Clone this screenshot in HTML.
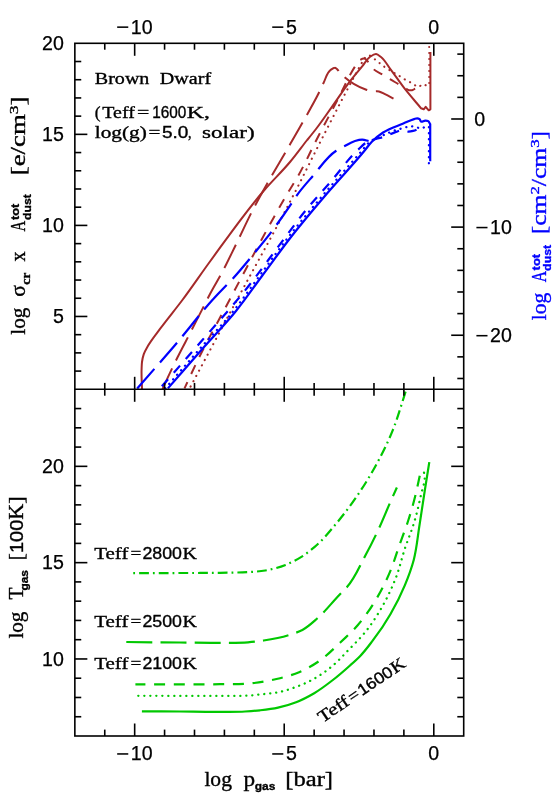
<!DOCTYPE html><html><head><meta charset="utf-8"><style>html,body{margin:0;padding:0;background:#fff}svg{display:block;will-change:transform;opacity:0.999}text{font-family:"Liberation Serif",serif}.sa{font-family:"Liberation Sans",sans-serif}</style></head><body>
<svg width="554" height="797" viewBox="0 0 554 797">
<rect width="554" height="797" fill="#fff"/>
<clipPath id="c1"><rect x="74.8" y="43.3" width="388.9" height="346.0"/></clipPath>
<clipPath id="c2"><rect x="74.8" y="389.3" width="388.9" height="346.7"/></clipPath>
<g clip-path="url(#c1)">
<path d="M142.0,389.3C141.9,382.5 141.3,375.8 141.6,369.0C141.7,366.7 141.7,364.3 142.0,362.0C142.3,359.4 142.9,356.8 143.7,354.4C144.7,351.4 146.4,348.6 148.0,345.8C151.4,339.8 155.9,334.5 160.0,328.9C167.2,319.1 175.1,309.8 182.4,300.0C191.9,287.4 200.7,274.2 210.0,261.5C227.7,237.3 244.8,212.6 264.4,190.0C272.7,180.4 281.9,171.7 290.0,162.0C296.0,154.9 301.4,147.3 307.2,140.0C310.3,136.2 313.4,132.4 316.4,128.5C321.9,121.4 326.9,113.9 332.1,106.6C338.3,98.0 344.0,89.0 350.5,80.6C354.4,75.6 358.6,70.7 362.6,65.8C365.0,62.9 366.8,59.1 369.8,57.0C371.7,55.7 374.1,53.8 376.1,54.0C377.8,54.2 379.5,55.9 381.0,57.0C384.8,59.9 387.0,64.7 390.0,68.6C395.2,75.4 399.8,82.5 405.1,89.2C410.2,95.7 415.8,101.9 421.1,108.3L423.7,109.3L425.7,106.8L428.7,110.3L430.4,109.3L430.4,52" fill="none" stroke="#a52a2a" stroke-width="2.0" stroke-linejoin="round" stroke-linecap="butt"/>
<path d="M162.5,389.3C163.1,387.9 163.7,386.6 164.3,385.2C168.4,376.0 172.8,366.8 177.3,357.8C181.0,350.3 185.0,342.9 188.9,335.4C194.2,325.0 199.5,314.7 204.8,304.3C206.5,300.9 208.2,297.4 210.0,294.0C213.6,287.1 217.7,280.5 221.4,273.7C226.8,263.6 231.7,253.1 236.8,242.8C242.0,232.3 246.8,221.5 252.2,211.1C255.9,204.0 259.7,197.0 263.6,190.0C264.7,188.0 265.9,185.9 267.0,183.9C273.1,173.0 279.7,162.3 286.0,151.4C291.7,141.5 297.5,131.6 303.1,121.6C308.7,111.6 314.6,101.7 319.6,91.4C320.9,88.7 322.1,86.0 323.4,83.3C325.7,78.7 326.8,72.5 331.0,69.7C332.1,68.9 333.6,67.8 334.8,67.8C336.9,67.7 338.4,71.2 340.2,73.0C341.1,73.9 342.0,74.8 342.9,75.7C349.2,81.6 356.9,86.4 365.0,89.2C367.6,90.1 370.3,91.0 373.0,91.3C375.0,91.6 377.1,91.1 379.0,91.5C381.1,92.0 383.0,93.2 385.0,94.2C387.9,95.6 390.7,97.2 393.5,98.7" fill="none" stroke="#a52a2a" stroke-width="2.0" stroke-linejoin="round" stroke-linecap="butt" stroke-dasharray="26 8.8" stroke-dashoffset="3.0"/>
<path d="M184.5,388.4C188.1,380.6 191.7,372.8 195.4,365.0C206.0,343.0 218.0,321.6 229.5,300.0C249.1,263.1 268.2,225.9 289.6,190.0C292.5,185.2 295.5,180.5 298.3,175.6C304.9,164.1 310.3,151.8 316.4,140.0C320.3,132.4 324.3,124.9 328.3,117.4C332.6,109.1 337.1,100.9 341.3,92.5C344.0,87.1 346.5,81.5 349.4,76.2C351.0,73.3 352.5,70.4 354.3,67.6C355.9,65.1 357.0,61.8 359.4,60.3C360.8,59.4 362.9,58.3 364.4,58.5C366.2,58.8 367.6,61.4 369.0,63.0C370.8,65.0 371.9,67.6 373.8,69.4C376.3,71.8 379.9,73.0 382.9,74.8C385.3,76.2 387.6,77.8 390.0,79.2C392.8,80.9 395.7,82.5 398.6,84.2C400.9,85.5 403.3,86.9 405.6,88.2C406.8,88.9 407.8,89.9 409.1,90.2C410.0,90.4 411.1,90.4 412.1,90.2C413.2,90.0 414.1,89.2 415.1,88.7C416.4,88.1 417.8,87.7 419.1,87.2" fill="none" stroke="#a52a2a" stroke-width="2.0" stroke-linejoin="round" stroke-linecap="butt" stroke-dasharray="9.8 9" stroke-dashoffset="2.9"/>
<path d="M189.6,388.4C203.8,361.8 218.0,335.2 232.2,308.7C253.4,269.1 275.6,230.0 296.1,190.0C305.0,172.7 313.4,155.3 322.3,138.0C335.0,113.1 347.6,88.2 361.3,63.8C362.2,62.2 362.8,60.4 364.0,59.0C365.3,57.5 367.2,55.4 368.9,55.4C370.5,55.4 372.2,57.4 373.8,58.5C375.4,59.6 376.9,60.9 378.4,62.1C380.0,63.4 381.6,64.8 383.3,66.0C384.8,67.1 386.4,68.1 388.0,69.1C389.7,70.2 391.3,71.3 393.0,72.3C394.7,73.3 396.4,74.1 398.1,75.1C399.8,76.1 401.4,77.4 403.1,78.4C404.9,79.5 406.8,80.4 408.6,81.4C410.3,82.3 411.9,83.3 413.6,84.2C415.3,85.1 417.0,87.2 418.6,87.0C420.0,86.9 421.2,84.2 422.7,84.0C424.1,83.8 425.7,85.8 427.2,85.7C427.9,85.7 428.5,85.4 429.2,85.2L429.2,44" fill="none" stroke="#a52a2a" stroke-width="2.1" stroke-linejoin="round" stroke-linecap="round" stroke-dasharray="0.1 5.9" stroke-dashoffset="3.9"/>
<path d="M167.9,388.4C179.9,374.6 191.9,360.7 204.0,347.0C214.6,335.0 225.9,323.5 236.0,311.0C245.1,299.7 253.3,287.7 262.0,276.0C271.7,263.0 281.0,249.8 291.0,237.0C302.6,222.2 314.8,207.8 327.0,193.5C339.5,178.8 352.9,165.0 365.1,150.0C367.3,147.3 369.2,144.4 371.6,141.9C375.0,138.3 379.0,135.2 383.1,132.5C389.2,128.5 396.5,126.4 403.3,123.5C406.9,122.0 410.4,120.2 414.1,119.1C415.1,118.8 416.1,118.3 417.1,118.3C417.9,118.3 418.9,118.6 419.6,119.1C420.3,119.7 420.4,121.2 421.1,121.6C422.1,122.2 423.8,120.6 425.2,120.6C426.2,120.6 427.4,120.6 428.2,121.1C429.1,121.7 429.5,123.1 430.2,124.1L430.2,161.3" fill="none" stroke="#0000ff" stroke-width="2.2" stroke-linejoin="round" stroke-linecap="butt"/>
<clipPath id="ca"><rect x="0" y="297" width="554" height="100"/></clipPath><clipPath id="cb"><rect x="0" y="0" width="554" height="297"/></clipPath>
<g clip-path="url(#ca)">
<path d="M137.2,388.4C150.3,373.4 163.7,358.5 176.6,343.3C188.7,329.0 199.8,313.9 212.4,300.0C219.3,292.4 226.8,285.3 233.6,277.7C241.2,269.3 248.3,260.5 255.5,251.7C261.0,245.0 266.5,238.3 271.7,231.4C278.5,222.4 284.9,213.2 291.2,203.8C292.8,201.4 294.3,198.9 296.0,196.5C301.1,189.1 307.2,182.5 313.1,175.7C320.5,167.1 326.7,156.7 336.2,150.7C338.5,149.3 341.0,148.1 343.4,146.8C347.2,144.8 350.9,142.2 355.0,141.0C357.3,140.3 359.8,139.6 362.2,139.6C364.4,139.6 366.5,140.5 368.7,141.0" fill="none" stroke="#0000ff" stroke-width="2.2" stroke-linejoin="round" stroke-linecap="butt" stroke-dasharray="26 8.5" stroke-dashoffset="0"/>
</g>
<g clip-path="url(#cb)">
<path d="M137.2,388.4C150.3,373.4 163.7,358.5 176.6,343.3C188.7,329.0 199.8,313.9 212.4,300.0C219.3,292.4 226.8,285.3 233.6,277.7C241.2,269.3 248.3,260.5 255.5,251.7C261.0,245.0 266.5,238.3 271.7,231.4C278.5,222.4 284.9,213.2 291.2,203.8C292.8,201.4 294.3,198.9 296.0,196.5C301.1,189.1 307.2,182.5 313.1,175.7C320.5,167.1 326.7,156.7 336.2,150.7C338.5,149.3 341.0,148.1 343.4,146.8C347.2,144.8 350.9,142.2 355.0,141.0C357.3,140.3 359.8,139.6 362.2,139.6C364.4,139.6 366.5,140.5 368.7,141.0" fill="none" stroke="#0000ff" stroke-width="2.2" stroke-linejoin="round" stroke-linecap="butt" stroke-dasharray="26 8.8" stroke-dashoffset="28.5"/>
</g>
<path d="M160.0,388.4C174.0,372.4 188.1,356.5 202.0,340.5C216.4,324.0 231.1,307.7 244.9,290.7C258.6,273.7 271.2,255.8 284.4,238.4C290.9,229.8 297.2,220.9 304.0,212.5C312.9,201.4 322.6,191.1 331.9,180.3C340.6,170.2 348.1,158.9 357.9,150.0C361.1,147.0 364.1,143.4 368.0,141.5C370.4,140.3 373.2,139.8 375.9,139.0C378.9,138.1 382.0,137.6 385.0,136.6C388.8,135.3 392.2,133.1 396.0,131.9C398.3,131.2 400.7,129.9 403.1,130.1C404.8,130.2 406.4,131.5 408.1,131.6C409.7,131.7 411.5,131.3 413.1,130.9C415.5,130.3 417.7,129.0 420.0,128.0" fill="none" stroke="#0000ff" stroke-width="2.2" stroke-linejoin="round" stroke-linecap="butt" stroke-dasharray="9.4 8.7" stroke-dashoffset="15.3"/>
<path d="M165.3,388.4C177.3,374.6 189.3,360.7 201.4,347.0C212.0,335.0 223.3,323.5 233.4,311.0C242.5,299.7 250.7,287.7 259.4,276.0C269.1,263.0 278.4,249.8 288.4,237.0C300.0,222.2 312.2,207.8 324.4,193.5C336.9,178.8 349.9,164.6 362.5,150.0C364.7,147.5 366.6,144.6 369.0,142.5C373.4,138.7 379.6,136.9 385.0,134.5C388.6,132.9 392.2,131.2 396.0,130.0C398.6,129.2 401.3,128.6 404.0,127.9C405.9,127.4 407.7,126.5 409.6,126.3C411.7,126.1 413.9,126.6 416.0,127.0C417.7,127.4 419.3,128.5 421.0,128.5C423.0,128.5 424.9,126.2 427.0,126.3C427.6,126.3 428.3,126.5 428.9,126.6L428.9,167.2" fill="none" stroke="#0000ff" stroke-width="2.3" stroke-linejoin="round" stroke-linecap="round" stroke-dasharray="0.1 5.9" stroke-dashoffset="0"/>
</g>
<g clip-path="url(#c2)">
<path d="M141.9,711.3C154.6,711.4 167.3,711.4 180.0,711.5C193.3,711.6 206.7,711.9 220.0,711.8C228.3,711.8 236.7,712.0 245.0,711.5C250.0,711.2 255.0,710.9 260.0,710.3C266.0,709.6 272.1,708.9 278.0,707.6C284.1,706.2 290.3,704.5 296.1,702.2C302.4,699.8 308.4,696.6 314.2,693.2C320.5,689.5 326.4,685.0 332.2,680.5C338.5,675.7 344.4,670.5 350.3,665.2C353.6,662.3 356.9,659.4 360.0,656.2C364.5,651.6 368.4,646.3 372.3,641.2C378.9,632.6 385.0,623.6 390.4,614.2C395.8,604.9 400.7,595.2 404.8,585.3C408.3,577.0 411.5,568.4 413.8,559.7C416.6,549.1 417.5,538.0 419.2,527.2C421.1,515.2 422.8,503.1 424.7,491.1C426.2,481.5 427.8,471.8 429.3,462.2" fill="none" stroke="#00c800" stroke-width="2.2" stroke-linejoin="round" stroke-linecap="butt"/>
<path d="M138.3,695.8C152.2,695.8 166.1,695.9 180.0,695.9C193.3,695.9 206.7,696.0 220.0,695.9C229.3,695.8 238.7,696.2 248.0,695.6C253.2,695.3 258.4,694.7 263.6,694.1C268.4,693.6 273.3,693.2 278.0,692.3C284.2,691.1 290.2,689.1 296.1,686.9C302.3,684.6 308.5,681.9 314.2,678.7C320.6,675.1 326.6,670.7 332.2,666.1C338.7,660.7 344.3,654.2 350.3,648.1C353.6,644.8 356.9,641.5 360.0,638.1C361.7,636.2 363.5,634.2 365.1,632.2C372.0,623.8 377.8,614.5 383.1,605.1C387.9,596.4 392.2,587.3 395.8,578.0C399.5,568.5 401.6,558.5 404.8,548.8C407.6,540.3 411.2,532.1 413.8,523.6C416.7,514.1 418.9,504.4 421.0,494.7C422.3,488.7 425.1,482.6 424.7,476.6C424.5,473.6 423.4,470.6 422.8,467.6" fill="none" stroke="#00c800" stroke-width="2.3" stroke-linejoin="round" stroke-linecap="round" stroke-dasharray="0.1 5.9" stroke-dashoffset="0"/>
<path d="M135.4,684.3C150.3,684.3 165.1,684.3 180.0,684.3C193.3,684.3 206.7,684.4 220.0,684.2C229.8,684.1 239.7,684.4 249.4,683.5C258.5,682.6 267.6,681.1 276.5,679.0C284.1,677.2 291.9,675.3 299.1,672.2C306.2,669.2 313.1,665.3 319.4,660.9C326.9,655.7 333.3,649.0 340.0,642.8C346.1,637.0 352.4,631.3 357.9,625.0C364.6,617.2 370.6,608.5 375.9,599.7C381.5,590.5 386.3,580.7 390.4,570.8C393.9,562.5 396.4,553.7 399.4,545.2C402.4,536.8 405.7,528.5 408.4,520.0C411.1,511.7 413.5,503.2 415.6,494.7C417.2,488.1 418.5,481.4 420.0,474.8" fill="none" stroke="#00c800" stroke-width="2.2" stroke-linejoin="round" stroke-linecap="butt" stroke-dasharray="11 8.7" stroke-dashoffset="1"/>
<path d="M126.3,642.0C144.2,642.2 162.1,642.4 180.0,642.5C193.3,642.6 206.7,642.9 220.0,642.8C229.3,642.7 238.7,643.0 248.0,642.3C253.2,641.9 258.4,641.3 263.6,640.5C272.1,639.2 280.7,637.7 288.9,635.1C293.5,633.6 298.2,632.2 302.4,630.0C307.8,627.1 312.5,622.6 317.2,618.5C325.5,611.2 332.2,602.2 340.0,594.2C342.3,591.8 344.8,589.6 347.0,587.1C354.9,578.2 359.4,566.6 365.1,556.1C370.2,546.6 375.0,537.0 379.5,527.2C383.3,518.9 386.7,510.3 390.4,501.9C392.5,497.1 394.7,492.3 396.9,487.5" fill="none" stroke="#00c800" stroke-width="2.2" stroke-linejoin="round" stroke-linecap="butt" stroke-dasharray="26 8.2" stroke-dashoffset="0"/>
<path d="M131.8,573.1C147.9,573.1 163.9,573.1 180.0,573.0C193.3,573.0 206.7,573.0 220.0,572.8C227.5,572.7 235.1,572.7 242.6,572.3C250.1,571.9 257.8,571.8 265.2,570.5C272.1,569.3 279.0,567.5 285.5,564.9C291.0,562.7 296.4,560.0 301.4,556.9C306.1,554.0 310.5,550.5 314.7,546.9C322.7,540.1 329.4,531.7 336.2,523.6C343.9,514.4 351.2,504.7 357.9,494.7C365.8,483.1 373.0,471.0 379.5,458.6C384.4,449.2 389.1,439.6 393.0,429.7C396.3,421.4 398.9,412.9 401.6,404.4C403.1,399.6 404.6,394.8 406.1,390.0" fill="none" stroke="#00c800" stroke-width="2.2" stroke-linejoin="round" stroke-linecap="butt" stroke-dasharray="9.8 4 1.8 4.06" stroke-dashoffset="12.36"/>
</g>
<rect x="74.85" y="43.3" width="388.85" height="692.70" fill="none" stroke="#000" stroke-width="1.6"/>
<line x1="74.85" y1="389.30" x2="463.70" y2="389.30" stroke="#000" stroke-width="1.6"/>
<line x1="104.76" y1="43.30" x2="104.76" y2="49.70" stroke="#000" stroke-width="1.6"/>
<line x1="104.76" y1="382.90" x2="104.76" y2="395.70" stroke="#000" stroke-width="1.6"/>
<line x1="104.76" y1="729.60" x2="104.76" y2="736.00" stroke="#000" stroke-width="1.6"/>
<line x1="134.67" y1="43.30" x2="134.67" y2="55.80" stroke="#000" stroke-width="1.6"/>
<line x1="134.67" y1="376.80" x2="134.67" y2="401.80" stroke="#000" stroke-width="1.6"/>
<line x1="134.67" y1="723.50" x2="134.67" y2="736.00" stroke="#000" stroke-width="1.6"/>
<line x1="164.58" y1="43.30" x2="164.58" y2="49.70" stroke="#000" stroke-width="1.6"/>
<line x1="164.58" y1="382.90" x2="164.58" y2="395.70" stroke="#000" stroke-width="1.6"/>
<line x1="164.58" y1="729.60" x2="164.58" y2="736.00" stroke="#000" stroke-width="1.6"/>
<line x1="194.50" y1="43.30" x2="194.50" y2="49.70" stroke="#000" stroke-width="1.6"/>
<line x1="194.50" y1="382.90" x2="194.50" y2="395.70" stroke="#000" stroke-width="1.6"/>
<line x1="194.50" y1="729.60" x2="194.50" y2="736.00" stroke="#000" stroke-width="1.6"/>
<line x1="224.41" y1="43.30" x2="224.41" y2="49.70" stroke="#000" stroke-width="1.6"/>
<line x1="224.41" y1="382.90" x2="224.41" y2="395.70" stroke="#000" stroke-width="1.6"/>
<line x1="224.41" y1="729.60" x2="224.41" y2="736.00" stroke="#000" stroke-width="1.6"/>
<line x1="254.32" y1="43.30" x2="254.32" y2="49.70" stroke="#000" stroke-width="1.6"/>
<line x1="254.32" y1="382.90" x2="254.32" y2="395.70" stroke="#000" stroke-width="1.6"/>
<line x1="254.32" y1="729.60" x2="254.32" y2="736.00" stroke="#000" stroke-width="1.6"/>
<line x1="284.23" y1="43.30" x2="284.23" y2="55.80" stroke="#000" stroke-width="1.6"/>
<line x1="284.23" y1="376.80" x2="284.23" y2="401.80" stroke="#000" stroke-width="1.6"/>
<line x1="284.23" y1="723.50" x2="284.23" y2="736.00" stroke="#000" stroke-width="1.6"/>
<line x1="314.14" y1="43.30" x2="314.14" y2="49.70" stroke="#000" stroke-width="1.6"/>
<line x1="314.14" y1="382.90" x2="314.14" y2="395.70" stroke="#000" stroke-width="1.6"/>
<line x1="314.14" y1="729.60" x2="314.14" y2="736.00" stroke="#000" stroke-width="1.6"/>
<line x1="344.05" y1="43.30" x2="344.05" y2="49.70" stroke="#000" stroke-width="1.6"/>
<line x1="344.05" y1="382.90" x2="344.05" y2="395.70" stroke="#000" stroke-width="1.6"/>
<line x1="344.05" y1="729.60" x2="344.05" y2="736.00" stroke="#000" stroke-width="1.6"/>
<line x1="373.97" y1="43.30" x2="373.97" y2="49.70" stroke="#000" stroke-width="1.6"/>
<line x1="373.97" y1="382.90" x2="373.97" y2="395.70" stroke="#000" stroke-width="1.6"/>
<line x1="373.97" y1="729.60" x2="373.97" y2="736.00" stroke="#000" stroke-width="1.6"/>
<line x1="403.88" y1="43.30" x2="403.88" y2="49.70" stroke="#000" stroke-width="1.6"/>
<line x1="403.88" y1="382.90" x2="403.88" y2="395.70" stroke="#000" stroke-width="1.6"/>
<line x1="403.88" y1="729.60" x2="403.88" y2="736.00" stroke="#000" stroke-width="1.6"/>
<line x1="433.79" y1="43.30" x2="433.79" y2="55.80" stroke="#000" stroke-width="1.6"/>
<line x1="433.79" y1="376.80" x2="433.79" y2="401.80" stroke="#000" stroke-width="1.6"/>
<line x1="433.79" y1="723.50" x2="433.79" y2="736.00" stroke="#000" stroke-width="1.6"/>
<line x1="74.85" y1="371.09" x2="81.25" y2="371.09" stroke="#000" stroke-width="1.6"/>
<line x1="74.85" y1="352.88" x2="81.25" y2="352.88" stroke="#000" stroke-width="1.6"/>
<line x1="74.85" y1="334.67" x2="81.25" y2="334.67" stroke="#000" stroke-width="1.6"/>
<line x1="74.85" y1="316.46" x2="87.35" y2="316.46" stroke="#000" stroke-width="1.6"/>
<line x1="74.85" y1="298.25" x2="81.25" y2="298.25" stroke="#000" stroke-width="1.6"/>
<line x1="74.85" y1="280.04" x2="81.25" y2="280.04" stroke="#000" stroke-width="1.6"/>
<line x1="74.85" y1="261.83" x2="81.25" y2="261.83" stroke="#000" stroke-width="1.6"/>
<line x1="74.85" y1="243.62" x2="81.25" y2="243.62" stroke="#000" stroke-width="1.6"/>
<line x1="74.85" y1="225.41" x2="87.35" y2="225.41" stroke="#000" stroke-width="1.6"/>
<line x1="74.85" y1="207.19" x2="81.25" y2="207.19" stroke="#000" stroke-width="1.6"/>
<line x1="74.85" y1="188.98" x2="81.25" y2="188.98" stroke="#000" stroke-width="1.6"/>
<line x1="74.85" y1="170.77" x2="81.25" y2="170.77" stroke="#000" stroke-width="1.6"/>
<line x1="74.85" y1="152.56" x2="81.25" y2="152.56" stroke="#000" stroke-width="1.6"/>
<line x1="74.85" y1="134.35" x2="87.35" y2="134.35" stroke="#000" stroke-width="1.6"/>
<line x1="74.85" y1="116.14" x2="81.25" y2="116.14" stroke="#000" stroke-width="1.6"/>
<line x1="74.85" y1="97.93" x2="81.25" y2="97.93" stroke="#000" stroke-width="1.6"/>
<line x1="74.85" y1="79.72" x2="81.25" y2="79.72" stroke="#000" stroke-width="1.6"/>
<line x1="74.85" y1="61.51" x2="81.25" y2="61.51" stroke="#000" stroke-width="1.6"/>
<line x1="457.30" y1="378.49" x2="463.70" y2="378.49" stroke="#000" stroke-width="1.6"/>
<line x1="457.30" y1="356.86" x2="463.70" y2="356.86" stroke="#000" stroke-width="1.6"/>
<line x1="451.20" y1="335.24" x2="463.70" y2="335.24" stroke="#000" stroke-width="1.6"/>
<line x1="457.30" y1="313.61" x2="463.70" y2="313.61" stroke="#000" stroke-width="1.6"/>
<line x1="457.30" y1="291.99" x2="463.70" y2="291.99" stroke="#000" stroke-width="1.6"/>
<line x1="457.30" y1="270.36" x2="463.70" y2="270.36" stroke="#000" stroke-width="1.6"/>
<line x1="457.30" y1="248.74" x2="463.70" y2="248.74" stroke="#000" stroke-width="1.6"/>
<line x1="451.20" y1="227.11" x2="463.70" y2="227.11" stroke="#000" stroke-width="1.6"/>
<line x1="457.30" y1="205.49" x2="463.70" y2="205.49" stroke="#000" stroke-width="1.6"/>
<line x1="457.30" y1="183.86" x2="463.70" y2="183.86" stroke="#000" stroke-width="1.6"/>
<line x1="457.30" y1="162.24" x2="463.70" y2="162.24" stroke="#000" stroke-width="1.6"/>
<line x1="457.30" y1="140.61" x2="463.70" y2="140.61" stroke="#000" stroke-width="1.6"/>
<line x1="451.20" y1="118.99" x2="463.70" y2="118.99" stroke="#000" stroke-width="1.6"/>
<line x1="457.30" y1="97.36" x2="463.70" y2="97.36" stroke="#000" stroke-width="1.6"/>
<line x1="457.30" y1="75.74" x2="463.70" y2="75.74" stroke="#000" stroke-width="1.6"/>
<line x1="457.30" y1="54.11" x2="463.70" y2="54.11" stroke="#000" stroke-width="1.6"/>
<line x1="74.85" y1="716.74" x2="81.25" y2="716.74" stroke="#000" stroke-width="1.6"/>
<line x1="457.30" y1="716.74" x2="463.70" y2="716.74" stroke="#000" stroke-width="1.6"/>
<line x1="74.85" y1="697.48" x2="81.25" y2="697.48" stroke="#000" stroke-width="1.6"/>
<line x1="457.30" y1="697.48" x2="463.70" y2="697.48" stroke="#000" stroke-width="1.6"/>
<line x1="74.85" y1="678.22" x2="81.25" y2="678.22" stroke="#000" stroke-width="1.6"/>
<line x1="457.30" y1="678.22" x2="463.70" y2="678.22" stroke="#000" stroke-width="1.6"/>
<line x1="74.85" y1="658.96" x2="87.35" y2="658.96" stroke="#000" stroke-width="1.6"/>
<line x1="451.20" y1="658.96" x2="463.70" y2="658.96" stroke="#000" stroke-width="1.6"/>
<line x1="74.85" y1="639.69" x2="81.25" y2="639.69" stroke="#000" stroke-width="1.6"/>
<line x1="457.30" y1="639.69" x2="463.70" y2="639.69" stroke="#000" stroke-width="1.6"/>
<line x1="74.85" y1="620.43" x2="81.25" y2="620.43" stroke="#000" stroke-width="1.6"/>
<line x1="457.30" y1="620.43" x2="463.70" y2="620.43" stroke="#000" stroke-width="1.6"/>
<line x1="74.85" y1="601.17" x2="81.25" y2="601.17" stroke="#000" stroke-width="1.6"/>
<line x1="457.30" y1="601.17" x2="463.70" y2="601.17" stroke="#000" stroke-width="1.6"/>
<line x1="74.85" y1="581.91" x2="81.25" y2="581.91" stroke="#000" stroke-width="1.6"/>
<line x1="457.30" y1="581.91" x2="463.70" y2="581.91" stroke="#000" stroke-width="1.6"/>
<line x1="74.85" y1="562.65" x2="87.35" y2="562.65" stroke="#000" stroke-width="1.6"/>
<line x1="451.20" y1="562.65" x2="463.70" y2="562.65" stroke="#000" stroke-width="1.6"/>
<line x1="74.85" y1="543.39" x2="81.25" y2="543.39" stroke="#000" stroke-width="1.6"/>
<line x1="457.30" y1="543.39" x2="463.70" y2="543.39" stroke="#000" stroke-width="1.6"/>
<line x1="74.85" y1="524.13" x2="81.25" y2="524.13" stroke="#000" stroke-width="1.6"/>
<line x1="457.30" y1="524.13" x2="463.70" y2="524.13" stroke="#000" stroke-width="1.6"/>
<line x1="74.85" y1="504.87" x2="81.25" y2="504.87" stroke="#000" stroke-width="1.6"/>
<line x1="457.30" y1="504.87" x2="463.70" y2="504.87" stroke="#000" stroke-width="1.6"/>
<line x1="74.85" y1="485.61" x2="81.25" y2="485.61" stroke="#000" stroke-width="1.6"/>
<line x1="457.30" y1="485.61" x2="463.70" y2="485.61" stroke="#000" stroke-width="1.6"/>
<line x1="74.85" y1="466.34" x2="87.35" y2="466.34" stroke="#000" stroke-width="1.6"/>
<line x1="451.20" y1="466.34" x2="463.70" y2="466.34" stroke="#000" stroke-width="1.6"/>
<line x1="74.85" y1="447.08" x2="81.25" y2="447.08" stroke="#000" stroke-width="1.6"/>
<line x1="457.30" y1="447.08" x2="463.70" y2="447.08" stroke="#000" stroke-width="1.6"/>
<line x1="74.85" y1="427.82" x2="81.25" y2="427.82" stroke="#000" stroke-width="1.6"/>
<line x1="457.30" y1="427.82" x2="463.70" y2="427.82" stroke="#000" stroke-width="1.6"/>
<line x1="74.85" y1="408.56" x2="81.25" y2="408.56" stroke="#000" stroke-width="1.6"/>
<line x1="457.30" y1="408.56" x2="463.70" y2="408.56" stroke="#000" stroke-width="1.6"/>
<line x1="117.17" y1="27.15" x2="128.27" y2="27.15" stroke="#000" stroke-width="1.55"/>
<text class="sa" x="130.87" y="33.50" font-size="19.6" text-anchor="start" letter-spacing="0.1" fill="#000" stroke="#000" stroke-width="0.25">10</text>
<line x1="117.17" y1="753.95" x2="128.27" y2="753.95" stroke="#000" stroke-width="1.55"/>
<text class="sa" x="130.87" y="760.30" font-size="19.6" text-anchor="start" letter-spacing="0.1" fill="#000" stroke="#000" stroke-width="0.25">10</text>
<line x1="272.23" y1="27.15" x2="283.33" y2="27.15" stroke="#000" stroke-width="1.55"/>
<text class="sa" x="285.93" y="33.50" font-size="19.6" text-anchor="start" letter-spacing="0.1" fill="#000" stroke="#000" stroke-width="0.25">5</text>
<line x1="272.23" y1="753.95" x2="283.33" y2="753.95" stroke="#000" stroke-width="1.55"/>
<text class="sa" x="285.93" y="760.30" font-size="19.6" text-anchor="start" letter-spacing="0.1" fill="#000" stroke="#000" stroke-width="0.25">5</text>
<text class="sa" x="428.29" y="33.50" font-size="19.6" text-anchor="start" letter-spacing="0.1" fill="#000" stroke="#000" stroke-width="0.25">0</text>
<text class="sa" x="428.29" y="760.30" font-size="19.6" text-anchor="start" letter-spacing="0.1" fill="#000" stroke="#000" stroke-width="0.25">0</text>
<text class="sa" x="63.90" y="323.26" font-size="19.6" text-anchor="end" letter-spacing="0.1" fill="#000" stroke="#000" stroke-width="0.25">5</text>
<text class="sa" x="63.90" y="232.21" font-size="19.6" text-anchor="end" letter-spacing="0.1" fill="#000" stroke="#000" stroke-width="0.25">10</text>
<text class="sa" x="63.90" y="141.15" font-size="19.6" text-anchor="end" letter-spacing="0.1" fill="#000" stroke="#000" stroke-width="0.25">15</text>
<text class="sa" x="63.90" y="50.10" font-size="19.6" text-anchor="end" letter-spacing="0.1" fill="#000" stroke="#000" stroke-width="0.25">20</text>
<text class="sa" x="63.90" y="665.76" font-size="19.6" text-anchor="end" letter-spacing="0.1" fill="#000" stroke="#000" stroke-width="0.25">10</text>
<text class="sa" x="63.90" y="569.45" font-size="19.6" text-anchor="end" letter-spacing="0.1" fill="#000" stroke="#000" stroke-width="0.25">15</text>
<text class="sa" x="63.90" y="473.14" font-size="19.6" text-anchor="end" letter-spacing="0.1" fill="#000" stroke="#000" stroke-width="0.25">20</text>
<text class="sa" x="474.20" y="125.79" font-size="19.6" text-anchor="start" letter-spacing="0.1" fill="#000" stroke="#000" stroke-width="0.25">0</text>
<line x1="476.40" y1="227.56" x2="487.50" y2="227.56" stroke="#000" stroke-width="1.55"/>
<text class="sa" x="490.10" y="233.91" font-size="19.6" text-anchor="start" letter-spacing="0.1" fill="#000" stroke="#000" stroke-width="0.25">10</text>
<line x1="476.40" y1="335.69" x2="487.50" y2="335.69" stroke="#000" stroke-width="1.55"/>
<text class="sa" x="490.10" y="342.04" font-size="19.6" text-anchor="start" letter-spacing="0.1" fill="#000" stroke="#000" stroke-width="0.25">20</text>
<text x="94.8" y="84.0" font-size="17" textLength="54.6" lengthAdjust="spacingAndGlyphs" fill="#000" stroke="#000" stroke-width="0.35">Brown</text>
<text x="159.8" y="84.0" font-size="17" textLength="51.3" lengthAdjust="spacingAndGlyphs" fill="#000" stroke="#000" stroke-width="0.35">Dwarf</text>
<text x="94.8" y="117.7" font-size="17" textLength="5.8" lengthAdjust="spacingAndGlyphs" fill="#000" stroke="#000" stroke-width="0.35">(</text>
<text x="102.3" y="117.7" font-size="17" textLength="32.5" lengthAdjust="spacingAndGlyphs" fill="#000" stroke="#000" stroke-width="0.35">Teff</text>
<text x="137.1" y="117.7" font-size="17" textLength="12.3" lengthAdjust="spacingAndGlyphs" fill="#000" stroke="#000" stroke-width="0.35">=</text>
<text x="152.2" y="117.7" font-size="16" textLength="34.1" lengthAdjust="spacingAndGlyphs" fill="#000" stroke="#000" stroke-width="0.35" class="sa">1600</text>
<text x="186.8" y="117.7" font-size="17" textLength="23.3" lengthAdjust="spacingAndGlyphs" fill="#000" stroke="#000" stroke-width="0.35">K,</text>
<text x="94.8" y="138.3" font-size="17" textLength="52.0" lengthAdjust="spacingAndGlyphs" fill="#000" stroke="#000" stroke-width="0.35">log(g)</text>
<text x="148.5" y="138.3" font-size="17" textLength="11.9" lengthAdjust="spacingAndGlyphs" fill="#000" stroke="#000" stroke-width="0.35">=</text>
<text x="161.9" y="138.3" font-size="16" textLength="26.4" lengthAdjust="spacingAndGlyphs" fill="#000" stroke="#000" stroke-width="0.35" class="sa">5.0</text>
<text x="188.0" y="138.3" font-size="17" textLength="3.6" lengthAdjust="spacingAndGlyphs" fill="#000" stroke="#000" stroke-width="0.35">,</text>
<text x="202.1" y="138.3" font-size="17" textLength="52.5" lengthAdjust="spacingAndGlyphs" fill="#000" stroke="#000" stroke-width="0.35">solar)</text>
<text x="94.2" y="558.6" font-size="17" textLength="34.2" lengthAdjust="spacingAndGlyphs" fill="#000" stroke="#000" stroke-width="0.35">Teff</text>
<text x="130.6" y="558.6" font-size="17" textLength="10.8" lengthAdjust="spacingAndGlyphs" fill="#000" stroke="#000" stroke-width="0.35">=</text>
<text x="142.4" y="558.6" font-size="16" textLength="39.5" lengthAdjust="spacingAndGlyphs" fill="#000" stroke="#000" stroke-width="0.35" class="sa">2800</text>
<text x="182.6" y="558.6" font-size="17" textLength="14.4" lengthAdjust="spacingAndGlyphs" fill="#000" stroke="#000" stroke-width="0.35">K</text>
<text x="94.2" y="627.3" font-size="17" textLength="34.2" lengthAdjust="spacingAndGlyphs" fill="#000" stroke="#000" stroke-width="0.35">Teff</text>
<text x="130.6" y="627.3" font-size="17" textLength="10.8" lengthAdjust="spacingAndGlyphs" fill="#000" stroke="#000" stroke-width="0.35">=</text>
<text x="142.4" y="627.3" font-size="16" textLength="39.5" lengthAdjust="spacingAndGlyphs" fill="#000" stroke="#000" stroke-width="0.35" class="sa">2500</text>
<text x="182.6" y="627.3" font-size="17" textLength="14.4" lengthAdjust="spacingAndGlyphs" fill="#000" stroke="#000" stroke-width="0.35">K</text>
<text x="94.2" y="669.2" font-size="17" textLength="34.2" lengthAdjust="spacingAndGlyphs" fill="#000" stroke="#000" stroke-width="0.35">Teff</text>
<text x="130.6" y="669.2" font-size="17" textLength="10.8" lengthAdjust="spacingAndGlyphs" fill="#000" stroke="#000" stroke-width="0.35">=</text>
<text x="142.4" y="669.2" font-size="16" textLength="39.5" lengthAdjust="spacingAndGlyphs" fill="#000" stroke="#000" stroke-width="0.35" class="sa">2100</text>
<text x="182.6" y="669.2" font-size="17" textLength="14.4" lengthAdjust="spacingAndGlyphs" fill="#000" stroke="#000" stroke-width="0.35">K</text>
<g transform="translate(322.8 723) rotate(-34.2)">
<text x="-0.3" y="0.0" font-size="17" textLength="33.9" lengthAdjust="spacingAndGlyphs" fill="#000" stroke="#000" stroke-width="0.35">Teff</text>
<text x="35.7" y="0.0" font-size="17" textLength="10.7" lengthAdjust="spacingAndGlyphs" fill="#000" stroke="#000" stroke-width="0.35">=</text>
<text x="47.4" y="0.0" font-size="16" textLength="39.1" lengthAdjust="spacingAndGlyphs" fill="#000" stroke="#000" stroke-width="0.35" class="sa">1600</text>
<text x="87.2" y="0.0" font-size="17" textLength="14.3" lengthAdjust="spacingAndGlyphs" fill="#000" stroke="#000" stroke-width="0.35">K</text>
</g>
<text x="25.0" y="334.7" font-size="20" textLength="27.0" lengthAdjust="spacingAndGlyphs" transform="rotate(-90 25.0 334.7)" fill="#000" stroke="#000" stroke-width="0.35">log</text>
<text x="25.0" y="296.8" font-size="20" textLength="11.6" lengthAdjust="spacingAndGlyphs" transform="rotate(-90 25.0 296.8)" fill="#000" stroke="#000" stroke-width="0.35">σ</text>
<text x="30.2" y="284.8" font-size="13.5" textLength="12.2" lengthAdjust="spacingAndGlyphs" transform="rotate(-90 30.2 284.8)" fill="#000" stroke="#000" stroke-width="0.35" font-weight="bold">cr</text>
<text x="25.0" y="261.6" font-size="20" textLength="10.0" lengthAdjust="spacingAndGlyphs" transform="rotate(-90 25.0 261.6)" fill="#000" stroke="#000" stroke-width="0.35">x</text>
<text x="25.0" y="231.6" font-size="20" textLength="10.7" lengthAdjust="spacingAndGlyphs" transform="rotate(-90 25.0 231.6)" fill="#000" stroke="#000" stroke-width="0.35">A</text>
<text x="19.0" y="219.9" font-size="11.8" textLength="16.2" lengthAdjust="spacingAndGlyphs" transform="rotate(-90 19.0 219.9)" fill="#000" stroke="#000" stroke-width="0.35" class="sa" font-weight="bold">tot</text>
<text x="30.7" y="219.9" font-size="11.8" textLength="25.7" lengthAdjust="spacingAndGlyphs" transform="rotate(-90 30.7 219.9)" fill="#000" stroke="#000" stroke-width="0.35" class="sa" font-weight="bold">dust</text>
<text x="25.0" y="175.3" font-size="20" textLength="78.8" lengthAdjust="spacingAndGlyphs" transform="rotate(-90 25.0 175.3)" fill="#000" stroke="#000" stroke-width="0.35">[e/cm<tspan font-size="13" dy="-7">3</tspan><tspan dy="7">]</tspan></text>
<text x="23.0" y="638.6" font-size="20" textLength="26.9" lengthAdjust="spacingAndGlyphs" transform="rotate(-90 23.0 638.6)" fill="#000" stroke="#000" stroke-width="0.35">log</text>
<text x="23.0" y="599.6" font-size="20" textLength="12.0" lengthAdjust="spacingAndGlyphs" transform="rotate(-90 23.0 599.6)" fill="#000" stroke="#000" stroke-width="0.35">T</text>
<text x="28.5" y="590.6" font-size="11.8" textLength="20.5" lengthAdjust="spacingAndGlyphs" transform="rotate(-90 28.5 590.6)" fill="#000" stroke="#000" stroke-width="0.35" class="sa" font-weight="bold">gas</text>
<text x="23.0" y="560.5" font-size="20" textLength="64.2" lengthAdjust="spacingAndGlyphs" transform="rotate(-90 23.0 560.5)" fill="#000" stroke="#000" stroke-width="0.35">[<tspan class="sa" font-size="18">100</tspan>K]</text>
<text x="546.0" y="320.3" font-size="20" textLength="27.6" lengthAdjust="spacingAndGlyphs" transform="rotate(-90 546.0 320.3)" fill="#0000ff" stroke="#0000ff" stroke-width="0.35">log</text>
<text x="546.0" y="282.2" font-size="20" textLength="11.3" lengthAdjust="spacingAndGlyphs" transform="rotate(-90 546.0 282.2)" fill="#0000ff" stroke="#0000ff" stroke-width="0.35">A</text>
<text x="539.6" y="270.4" font-size="11.8" textLength="16.6" lengthAdjust="spacingAndGlyphs" transform="rotate(-90 539.6 270.4)" fill="#0000ff" stroke="#0000ff" stroke-width="0.35" class="sa" font-weight="bold">tot</text>
<text x="551.4" y="270.9" font-size="11.8" textLength="26.1" lengthAdjust="spacingAndGlyphs" transform="rotate(-90 551.4 270.9)" fill="#0000ff" stroke="#0000ff" stroke-width="0.35" class="sa" font-weight="bold">dust</text>
<text x="546.0" y="234.3" font-size="20" textLength="103.3" lengthAdjust="spacingAndGlyphs" transform="rotate(-90 546.0 234.3)" fill="#0000ff" stroke="#0000ff" stroke-width="0.35">[cm<tspan font-size="13" dy="-7">2</tspan><tspan dy="7">/cm</tspan><tspan font-size="13" dy="-7">3</tspan><tspan dy="7">]</tspan></text>
<text x="204.4" y="786.2" font-size="20" textLength="27.5" lengthAdjust="spacingAndGlyphs" fill="#000" stroke="#000" stroke-width="0.35">log</text>
<text x="243.4" y="786.2" font-size="20" textLength="11.6" lengthAdjust="spacingAndGlyphs" fill="#000" stroke="#000" stroke-width="0.35">p</text>
<text x="254.8" y="789.5" font-size="11.8" textLength="20.6" lengthAdjust="spacingAndGlyphs" fill="#000" stroke="#000" stroke-width="0.35" font-weight="bold" class="sa">gas</text>
<text x="285.3" y="786.2" font-size="20" textLength="47.7" lengthAdjust="spacingAndGlyphs" fill="#000" stroke="#000" stroke-width="0.35">[bar]</text>
</svg></body></html>
